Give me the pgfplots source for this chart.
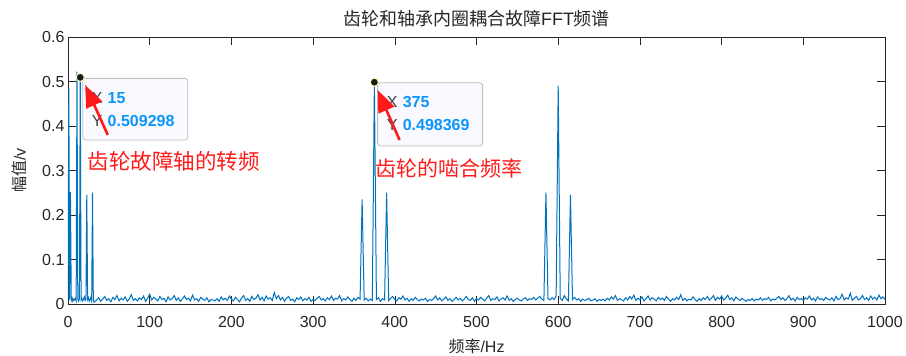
\documentclass[border=0pt]{standalone}
\usepackage{pgfplots}
\pgfplotsset{compat=1.18}
\usepackage{fontspec}
\setmainfont{Liberation Sans}
\newfontfamily\cjk{Noto Sans CJK SC}
\usetikzlibrary{arrows.meta}
\definecolor{mblue}{HTML}{0072BD}
\definecolor{axgray}{HTML}{262626}
\definecolor{tipblue}{HTML}{0A96FA}
\definecolor{tipgray}{HTML}{404040}
\definecolor{tipbg}{HTML}{F9F9FF}
\definecolor{tipedge}{HTML}{BDBDBD}
\definecolor{annred}{HTML}{FF1A1A}
\begin{document}
\begin{tikzpicture}
\useasboundingbox (-68pt,-52pt) rectangle (838pt,304pt);
\begin{axis}[
  scale only axis, width=817pt, height=267pt,
  xmin=0, xmax=1000, ymin=0, ymax=0.6,
  xtick={0,100,...,1000}, ytick={0,0.1,...,0.6},
  yticklabels={0,0.1,0.2,0.3,0.4,0.5,0.6},
  /pgf/number format/1000 sep={},
  /pgf/number format/assume math mode=true,
  tick align=inside, major tick length=8pt,
  axis line style={axgray, line width=0.6pt},
  every tick/.style={axgray, line width=0.6pt},
  tick label style={font=\fontsize{16}{19}\selectfont, text=axgray},
  xticklabel style={yshift=-9pt},
  title={\cjk 齿轮和轴承内圈耦合故障\normalfont FFT\cjk 频谱},
  title style={at={(axis description cs:0.5,1.02)}, anchor=base, font=\fontsize{18}{21}\selectfont, text=black!85},
  xlabel={\cjk 频率\normalfont/Hz},
  xlabel style={at={(axis description cs:0.5,-0.1835)}, anchor=base, font=\fontsize{16}{19}\selectfont, text=axgray},
  ylabel={\cjk 幅值\normalfont/v},
  ylabel style={at={(axis description cs:-0.0594,0.5)}, anchor=center, rotate=0, font=\fontsize{16}{19}\selectfont, text=axgray},
  clip mode=individual,
]
\addplot[mblue, line width=1pt] coordinates {
(0,0.012) (1,0.485) (2,0.010) (3,0.252) (4,0.008) (5,0.014) (6,0.006) (7,0.011) (8,0.009) (9,0.013)
(10,0.007) (11,0.522) (12,0.010) (13,0.006) (14,0.012) (15,0.509) (16,0.009) (17,0.013) (18,0.007) (19,0.011)
(20,0.016) (21,0.008) (22,0.012) (23,0.245) (24,0.010) (25,0.014) (26,0.006) (27,0.009) (28,0.015) (29,0.007)
(30,0.250) (31,0.008) (32,0.004)
(35,0.009) (37.5,0.014) (40,0.006) (42.5,0.011) (45,0.017) (47.5,0.008) (50,0.012) (52.5,0.005) (55,0.015) (57.5,0.010)
(60,0.019) (62.5,0.007) (65,0.013) (67.5,0.009) (70,0.016) (72.5,0.006) (75,0.011) (77.5,0.021) (80,0.008) (82.5,0.012)
(85,0.007) (87.5,0.014) (90,0.010) (92.5,0.018) (95,0.006) (97.5,0.013) (100,0.022) (102.5,0.009) (105,0.015) (107.5,0.011)
(110,0.007) (112.5,0.017) (115,0.010) (117.5,0.013) (120,0.005) (122.5,0.016) (125,0.009) (127.5,0.012) (130,0.019) (132.5,0.008)
(135,0.014) (137.5,0.006) (140,0.011) (142.5,0.018) (145,0.010) (147.5,0.013) (150,0.007) (152.5,0.020) (155,0.009) (157.5,0.012)
(160,0.006) (162.5,0.015) (165,0.011) (167.5,0.008) (170,0.014) (172.5,0.005) (175,0.010) (177.5,0.009) (180,0.007) (182.5,0.012)
(185,0.006) (187.5,0.016) (190,0.009) (192.5,0.013) (195,0.008) (197.5,0.018) (200,0.011) (202.5,0.007) (205,0.015) (207.5,0.010)
(210,0.005) (212.5,0.014) (215,0.019) (217.5,0.008) (220,0.012) (222.5,0.006) (225,0.017) (227.5,0.010) (230,0.013) (232.5,0.021)
(235,0.009) (237.5,0.015) (240,0.007) (242.5,0.018) (245,0.011) (247.5,0.014) (250,0.008) (252.5,0.026) (255,0.012) (257.5,0.019)
(260,0.009) (262.5,0.015) (265,0.006) (267.5,0.013) (270,0.017) (272.5,0.008) (275,0.011) (277.5,0.005) (280,0.014) (282.5,0.010)
(285,0.016) (287.5,0.007) (290,0.012) (292.5,0.009) (295,0.015) (297.5,0.006) (300,0.010) (302.5,0.008) (305,0.013) (307.5,0.017)
(310,0.009) (312.5,0.012) (315,0.007) (317.5,0.014) (320,0.010) (322.5,0.018) (325,0.008) (327.5,0.013) (330,0.011) (332.5,0.019)
(335,0.007) (337.5,0.012) (340,0.009) (342.5,0.016) (345,0.010) (347.5,0.006) (350,0.013) (352.5,0.008) (355,0.015) (357.5,0.011)
(360,0.235) (362.5,0.009) (365,0.013) (367.5,0.007) (370,0.011) (372.5,0.008) (375,0.498) (377.5,0.010) (380,0.014) (382.5,0.006)
(385,0.012) (387.5,0.009) (390,0.250) (392.5,0.008) (395,0.013) (397.5,0.017) (400,0.010) (402.5,0.007) (405,0.014) (407.5,0.011)
(410,0.018) (412.5,0.009) (415,0.013) (417.5,0.006) (420,0.012) (422.5,0.008) (425,0.015) (427.5,0.010) (430,0.007) (432.5,0.011)
(435,0.009) (437.5,0.013) (440,0.006) (442.5,0.010) (445,0.008) (447.5,0.012) (450,0.018) (452.5,0.009) (455,0.014) (457.5,0.007)
(460,0.011) (462.5,0.016) (465,0.008) (467.5,0.012) (470,0.006) (472.5,0.010) (475,0.015) (477.5,0.009) (480,0.013) (482.5,0.007)
(485,0.011) (487.5,0.017) (490,0.010) (492.5,0.008) (495,0.014) (497.5,0.006) (500,0.012) (502.5,0.009) (505,0.015) (507.5,0.011)
(510,0.007) (512.5,0.013) (515,0.019) (517.5,0.008) (520,0.012) (522.5,0.010) (525,0.016) (527.5,0.007) (530,0.011) (532.5,0.014)
(535,0.009) (537.5,0.018) (540,0.008) (542.5,0.012) (545,0.006) (547.5,0.010) (550,0.013) (552.5,0.009) (555,0.007) (557.5,0.011)
(560,0.014) (562.5,0.008) (565,0.012) (567.5,0.010) (570,0.015) (572.5,0.009) (575,0.013) (577.5,0.017) (580,0.011) (582.5,0.008)
(585,0.250) (587.5,0.012) (590,0.009) (592.5,0.014) (595,0.010) (597.5,0.018) (600,0.490) (602.5,0.013) (605,0.008) (607.5,0.019)
(610,0.011) (612.5,0.007) (615,0.245) (617.5,0.010) (620,0.015) (622.5,0.009) (625,0.012) (627.5,0.006) (630,0.011) (632.5,0.008)
(635,0.010) (637.5,0.013) (640,0.007) (642.5,0.009) (645,0.012) (647.5,0.006) (650,0.010) (652.5,0.008) (655,0.011) (657.5,0.007)
(660,0.013) (662.5,0.009) (665,0.016) (667.5,0.011) (670,0.019) (672.5,0.008) (675,0.012) (677.5,0.010) (680,0.007) (682.5,0.014)
(685,0.009) (687.5,0.017) (690,0.011) (692.5,0.020) (695,0.008) (697.5,0.013) (700,0.010) (702.5,0.016) (705,0.007) (707.5,0.012)
(710,0.018) (712.5,0.009) (715,0.014) (717.5,0.011) (720,0.007) (722.5,0.015) (725,0.010) (727.5,0.013) (730,0.008) (732.5,0.017)
(735,0.011) (737.5,0.006) (740,0.012) (742.5,0.009) (745,0.015) (747.5,0.010) (750,0.021) (752.5,0.008) (755,0.013) (757.5,0.007)
(760,0.011) (762.5,0.009) (765,0.016) (767.5,0.010) (770,0.006) (772.5,0.012) (775,0.008) (777.5,0.014) (780,0.010) (782.5,0.017)
(785,0.009) (787.5,0.013) (790,0.019) (792.5,0.008) (795,0.015) (797.5,0.011) (800,0.018) (802.5,0.009) (805,0.013) (807.5,0.020)
(810,0.010) (812.5,0.014) (815,0.007) (817.5,0.016) (820,0.011) (822.5,0.008) (825,0.013) (827.5,0.009) (830,0.006) (832.5,0.010)
(835,0.008) (837.5,0.012) (840,0.007) (842.5,0.011) (845,0.009) (847.5,0.014) (850,0.008) (852.5,0.012) (855,0.010) (857.5,0.015)
(860,0.007) (862.5,0.011) (865,0.009) (867.5,0.013) (870,0.017) (872.5,0.010) (875,0.014) (877.5,0.008) (880,0.012) (882.5,0.019)
(885,0.009) (887.5,0.013) (890,0.007) (892.5,0.015) (895,0.010) (897.5,0.012) (900,0.008) (902.5,0.014) (905,0.011) (907.5,0.018)
(910,0.009) (912.5,0.013) (915,0.007) (917.5,0.016) (920,0.010) (922.5,0.012) (925,0.008) (927.5,0.015) (930,0.011) (932.5,0.009)
(935,0.014) (937.5,0.007) (940,0.017) (942.5,0.010) (945,0.012) (947.5,0.022) (950,0.009) (952.5,0.014) (955,0.011) (957.5,0.024)
(960,0.008) (962.5,0.013) (965,0.017) (967.5,0.009) (970,0.012) (972.5,0.019) (975,0.010) (977.5,0.014) (980,0.008) (982.5,0.018)
(985,0.011) (987.5,0.015) (990,0.009) (992.5,0.020) (995,0.012) (997.5,0.016) (1000,0.010)
};
% data tips
\draw[tipedge, fill=tipbg, rounded corners=3pt, line width=0.8pt] (axis cs:18.1,0.507) rectangle (axis cs:146.6,0.3685);
\draw[tipedge, fill=tipbg, rounded corners=3pt, line width=0.8pt] (axis cs:379,0.497) rectangle (axis cs:507.5,0.355);
\node[anchor=west, inner sep=0pt, text=tipgray, font=\fontsize{16}{19}\selectfont] at (axis cs:29,0.462) {X};
\node[anchor=west, inner sep=0pt, text=tipblue, font=\fontsize{16}{19}\selectfont\bfseries] at (axis cs:48.4,0.462) {15};
\node[anchor=west, inner sep=0pt, text=tipgray, font=\fontsize{16}{19}\selectfont] at (axis cs:29,0.412) {Y};
\node[anchor=west, inner sep=0pt, text=tipblue, font=\fontsize{16}{19}\selectfont\bfseries] at (axis cs:48.4,0.412) {0.509298};
\node[anchor=west, inner sep=0pt, text=tipgray, font=\fontsize{16}{19}\selectfont] at (axis cs:390,0.4546) {X};
\node[anchor=west, inner sep=0pt, text=tipblue, font=\fontsize{16}{19}\selectfont\bfseries] at (axis cs:409.5,0.4546) {375};
\node[anchor=west, inner sep=0pt, text=tipgray, font=\fontsize{16}{19}\selectfont] at (axis cs:390,0.402) {Y};
\node[anchor=west, inner sep=0pt, text=tipblue, font=\fontsize{16}{19}\selectfont\bfseries] at (axis cs:409.5,0.402) {0.498369};
\addplot[only marks, mark=*, mark size=4pt, mark options={fill=black!90, draw=yellow!30, line width=0.9pt}] coordinates {(15,0.509298) (375,0.498369)};
% arrows
\draw[annred, line width=2.6pt, -{Triangle[length=22pt, width=17pt]}] (axis cs:48.7,0.380) -- (axis cs:21,0.492);
\draw[annred, line width=2.6pt, -{Triangle[length=22pt, width=17pt]}] (axis cs:405.8,0.3685) -- (axis cs:379,0.481);
% annotations
\node[anchor=west, inner sep=0pt, text=annred, font=\fontsize{21.5}{24}\selectfont\cjk] at (axis cs:24.2,0.320) {齿轮故障轴的转频};
\node[anchor=west, inner sep=0pt, text=annred, font=\fontsize{21}{24}\selectfont\cjk] at (axis cs:376.4,0.305) {齿轮的啮合频率};
\end{axis}
\end{tikzpicture}
\end{document}
